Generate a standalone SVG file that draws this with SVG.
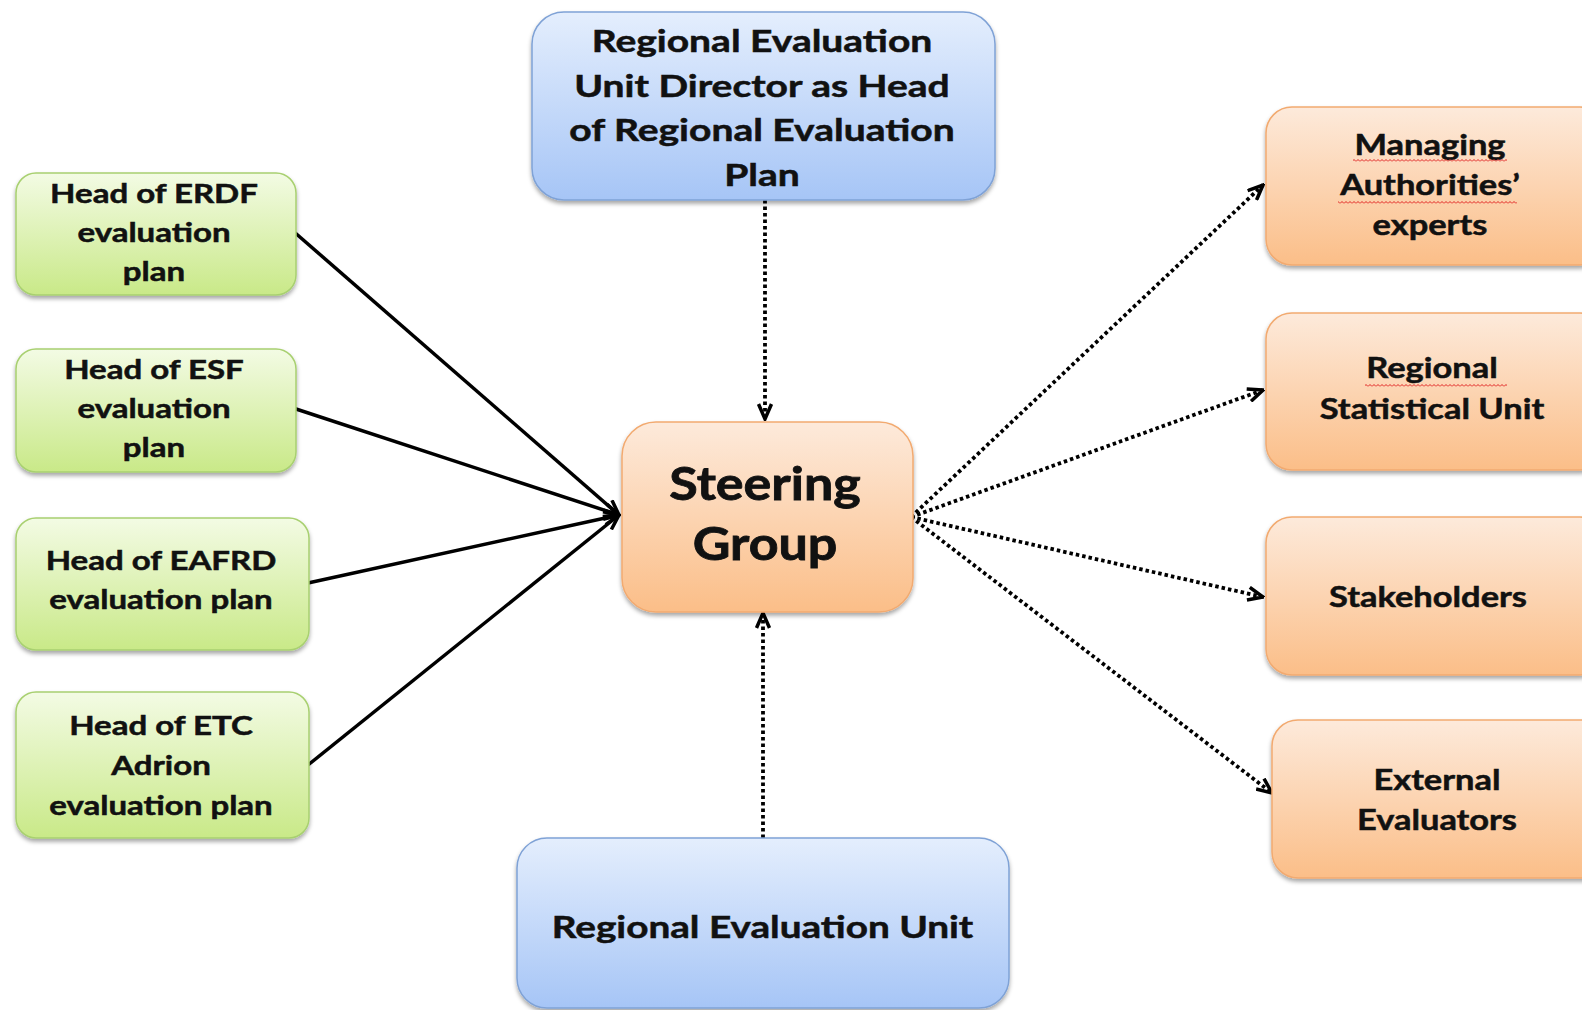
<svg xmlns="http://www.w3.org/2000/svg" width="1582" height="1010" viewBox="0 0 1582 1010">
<defs>
<linearGradient id="gGreen" x1="0" y1="0" x2="0" y2="1">
<stop offset="0" stop-color="#f3fbe4"/><stop offset="1" stop-color="#c9e988"/>
</linearGradient>
<linearGradient id="gBlue" x1="0" y1="0" x2="0" y2="1">
<stop offset="0" stop-color="#e4eefd"/><stop offset="1" stop-color="#a6c5f6"/>
</linearGradient>
<linearGradient id="gOrange" x1="0" y1="0" x2="0" y2="1">
<stop offset="0" stop-color="#fdeadb"/><stop offset="1" stop-color="#fbbe88"/>
</linearGradient>
<filter id="shadow" x="-10%" y="-10%" width="120%" height="130%">
<feDropShadow dx="0" dy="3" stdDeviation="2" flood-color="#000" flood-opacity="0.35"/>
</filter>
<marker id="arrow" viewBox="0 0 18 16" refX="16.5" refY="8" markerWidth="18" markerHeight="16" markerUnits="userSpaceOnUse" orient="auto">
<path d="M1.5,1.5 L16.5,8 L1.5,14.5" fill="none" stroke="#000" stroke-width="3.5" stroke-linejoin="miter"/>
</marker>
<pattern id="squiggle" width="4" height="3" patternUnits="userSpaceOnUse">
<path d="M0,2.5 L2,0.5 L4,2.5" fill="none" stroke="#e02020" stroke-width="1"/>
</pattern>
</defs>
<style>
.green{fill:url(#gGreen);stroke:#a8d070;stroke-width:1.5;filter:url(#shadow)}
.blue{fill:url(#gBlue);stroke:#7fa2d6;stroke-width:1.5;filter:url(#shadow)}
.orange{fill:url(#gOrange);stroke:#f2aa70;stroke-width:1.5;filter:url(#shadow)}
text{font-family:Lato,"Open Sans","Liberation Sans",sans-serif;font-weight:bold;fill:#111;stroke:#111;stroke-width:0.5;text-anchor:middle}
.t25{font-size:26px}
.t30{font-size:30px}
.t27{font-size:28px}
.t44{font-size:45px;stroke-width:0.8}
.solid{stroke:#000;stroke-width:3.5;fill:none;marker-end:url(#arrow)}
.dotted{stroke:#000;stroke-width:3.8;fill:none;stroke-dasharray:3.5 3;marker-end:url(#arrow)}
</style>
<rect width="1582" height="1010" fill="#fff"/>

<g id="connectors">
<path class="solid" d="M293,231 L619,515"/>
<path class="solid" d="M293,408 L619,515"/>
<path class="solid" d="M308,583 L619,515"/>
<path class="solid" d="M308,765 L619,515"/>
<path class="dotted" d="M765,200 L765,419"/>
<path class="dotted" d="M763,838 L763,613"/>
<path class="dotted" d="M911,517 L1263,185"/>
<path class="dotted" d="M911,517 L1263,390"/>
<path class="dotted" d="M911,517 L1263,597"/>
<path class="dotted" d="M911,517 L1272,793"/>
<circle cx="911" cy="517" r="3.5" fill="#000"/>
</g>

<g id="erdf">
<rect class="green" x="16" y="173" width="280" height="122" rx="20"/>
<g transform="matrix(1.27,0,0,1,-41.58,0)">
<text class="t25" x="154" y="203">Head of ERDF</text>
<text class="t25" x="154" y="242">evaluation</text>
<text class="t25" x="154" y="281">plan</text>
</g>
</g>
<g id="esf">
<rect class="green" x="16" y="349" width="280" height="123" rx="20"/>
<g transform="matrix(1.27,0,0,1,-41.58,0)">
<text class="t25" x="154" y="379">Head of ESF</text>
<text class="t25" x="154" y="418">evaluation</text>
<text class="t25" x="154" y="457">plan</text>
</g>
</g>
<g id="eafrd">
<rect class="green" x="16" y="518" width="293" height="132" rx="20"/>
<g transform="matrix(1.27,0,0,1,-43.47,0)">
<text class="t25" x="161" y="570">Head of EAFRD</text>
<text class="t25" x="161" y="609">evaluation plan</text>
</g>
</g>
<g id="etc">
<rect class="green" x="16" y="692" width="293" height="146" rx="20"/>
<g transform="matrix(1.27,0,0,1,-43.47,0)">
<text class="t25" x="161" y="735">Head of ETC</text>
<text class="t25" x="161" y="775">Adrion</text>
<text class="t25" x="161" y="815">evaluation plan</text>
</g>
</g>

<g id="director">
<rect class="blue" x="532" y="12" width="463" height="188" rx="32"/>
<g transform="matrix(1.3,0,0,1,-228.6,0)">
<text class="t30" x="762" y="52">Regional Evaluation</text>
<text class="t30" x="762" y="97">Unit Director as Head</text>
<text class="t30" x="762" y="141">of Regional Evaluation</text>
<text class="t30" x="762" y="186">Plan</text>
</g>
</g>

<g id="unit">
<rect class="blue" x="517" y="838" width="492" height="170" rx="30"/>
<g transform="matrix(1.29,0,0,1,-221.13,0)">
<text class="t30" x="762.5" y="938">Regional Evaluation Unit</text>
</g>
</g>

<g id="steering">
<rect class="orange" x="622" y="422" width="291" height="190" rx="34"/>
<g transform="matrix(1.155,0,0,1,-118.575,0)">
<text class="t44" x="765" y="500">Steering</text>
<text class="t44" x="765" y="560">Group</text>
</g>
</g>

<g id="managing">
<rect class="orange" x="1266" y="107" width="340" height="158" rx="26"/>
<g transform="matrix(1.23,0,0,1,-328.9,0)">
<text class="t27" x="1430" y="155">Managing</text>
<text class="t27" x="1430" y="195">Authorities’</text>
<text class="t27" x="1430" y="235">experts</text>
</g>
<rect x="1353" y="159" width="154" height="3" fill="url(#squiggle)"/>
<rect x="1338" y="201" width="179" height="3" fill="url(#squiggle)"/>
</g>
<g id="statistical">
<rect class="orange" x="1266" y="313" width="340" height="157" rx="26"/>
<g transform="matrix(1.23,0,0,1,-329.36,0)">
<text class="t27" x="1432" y="378">Regional</text>
<text class="t27" x="1432" y="419">Statistical Unit</text>
</g>
<rect x="1365" y="384" width="142" height="3" fill="url(#squiggle)"/>
</g>
<g id="stakeholders">
<rect class="orange" x="1266" y="517" width="340" height="158" rx="26"/>
<g transform="matrix(1.23,0,0,1,-328.44,0)">
<text class="t27" x="1428" y="607">Stakeholders</text>
</g>
</g>
<g id="external">
<rect class="orange" x="1272" y="720" width="340" height="158" rx="26"/>
<g transform="matrix(1.23,0,0,1,-330.51,0)">
<text class="t27" x="1437" y="790">External</text>
<text class="t27" x="1437" y="830">Evaluators</text>
</g>
</g>
</svg>
